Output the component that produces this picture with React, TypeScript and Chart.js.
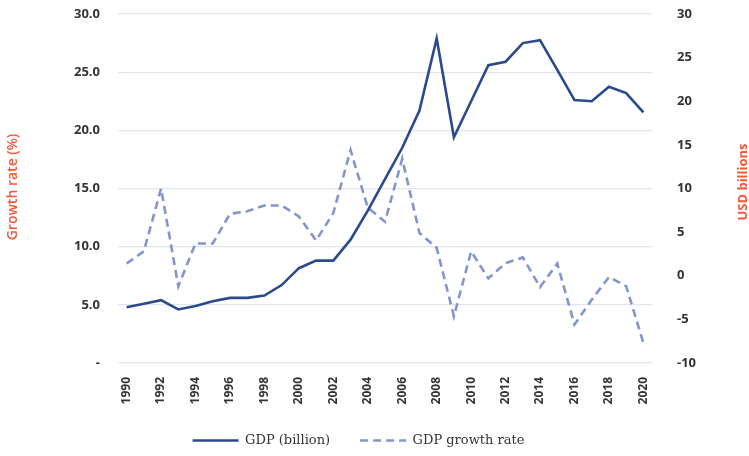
import React, { useEffect, useRef } from "react";
import { Chart, registerables } from "chart.js";

Chart.register(...registerables);

const years = [
  "1990", "1991", "1992", "1993", "1994", "1995", "1996", "1997", "1998", "1999",
  "2000", "2001", "2002", "2003", "2004", "2005", "2006", "2007", "2008", "2009",
  "2010", "2011", "2012", "2013", "2014", "2015", "2016", "2017", "2018", "2019", "2020",
];

const gdpBillion = [
  4.8, 5.1, 5.4, 4.6, 4.9, 5.3, 5.6, 5.6, 5.8, 6.7,
  8.15, 8.8, 8.8, 10.6, 13.1, 15.8, 18.5, 21.7, 27.9, 19.4,
  22.5, 25.6, 25.9, 27.5, 27.75, 25.2, 22.6, 22.5, 23.75, 23.2, 21.55,
];

const gdpGrowth = [
  1.4, 2.8, 10.0, -1.2, 3.7, 3.7, 7.1, 7.4, 8.05, 8.05,
  6.8, 4.05, 7.2, 14.4, 7.8, 6.2, 13.4, 4.9, 3.2, -4.65,
  2.8, -0.3, 1.45, 2.1, -1.3, 1.4, -5.6, -2.75, -0.15, -1.2, -7.7,
];

const seriesLabels = ["GDP (billion)", "GDP growth rate"];
const leftTitle = "Growth rate (%)";
const rightTitle = "USD billions";

const SOLID = "#2b4a8e";
const DASHED = "#8494cc";
const ORANGE = "#f15a3b";
const TICK = "#333333";
const GRID = "#e1e5ee";

const titlesPlugin = {
  id: "sideTitles",
  afterDraw(chart: any) {
    const { ctx } = chart;
    ctx.save();
    ctx.fillStyle = ORANGE;
    ctx.font = "600 14px 'Open Sans'";
    ctx.textAlign = "center";
    ctx.textBaseline = "middle";
    ctx.translate(13, 187);
    ctx.rotate(-Math.PI / 2);
    ctx.fillText(leftTitle, 0, 0);
    ctx.restore();

    ctx.save();
    ctx.fillStyle = ORANGE;
    ctx.font = "bold 13px 'Open Sans'";
    ctx.textAlign = "center";
    ctx.textBaseline = "middle";
    ctx.translate(743, 182);
    ctx.rotate(-Math.PI / 2);
    ctx.fillText(rightTitle, 0, 0);
    ctx.restore();
  },
};

export default function App() {
  const ref = useRef<HTMLCanvasElement | null>(null);

  useEffect(() => {
    if (!ref.current) return;
    const chart = new Chart(ref.current, {
      type: "line",
      data: {
        labels: years,
        datasets: [
          {
            label: seriesLabels[0],
            data: gdpBillion,
            yAxisID: "y",
            borderColor: SOLID,
            backgroundColor: SOLID,
            borderWidth: 2.6,
            pointRadius: 0,
            tension: 0,
          },
          {
            label: seriesLabels[1],
            data: gdpGrowth,
            yAxisID: "y1",
            borderColor: DASHED,
            backgroundColor: DASHED,
            borderWidth: 2.6,
            borderDash: [8, 5],
            pointRadius: 0,
            tension: 0,
          },
        ],
      },
      options: {
        animation: false,
        responsive: false,
        maintainAspectRatio: false,
        layout: { padding: { top: 0, bottom: -1, left: 0, right: 32 } },
        plugins: {
          legend: {
            position: "bottom",
            labels: {
              usePointStyle: true,
              pointStyle: "line",
              pointStyleWidth: 46,
              boxHeight: 13,
              color: "#333",
              font: { family: "'DejaVu Serif'", size: 13 },
              padding: 30,
              generateLabels: (c: any) =>
                c.data.datasets.map((ds: any, i: number) => ({
                  text: ds.label,
                  fillStyle: ds.borderColor,
                  strokeStyle: ds.borderColor,
                  lineWidth: 2.6,
                  lineDash: ds.borderDash || [],
                  lineCap: "butt",
                  pointStyle: "line",
                  hidden: false,
                  datasetIndex: i,
                  fontColor: "#333",
                })),
            },
          },
          tooltip: { enabled: false },
        },
        scales: {
          x: {
            type: "category",
            offset: true,
            grid: { display: false, drawTicks: false },
            border: { display: false },
            ticks: {
              autoSkip: false,
              minRotation: 90,
              maxRotation: 90,
              padding: 14,
              color: TICK,
              font: { family: "'Open Sans'", size: 12, weight: "bold" },
              callback: (v: any, i: number) => (i % 2 === 0 ? years[i] : ""),
            },
            afterFit: (s: any) => {
              s.height = 41;
            },
          },
          y: {
            position: "left",
            min: 0,
            max: 30,
            ticks: {
              stepSize: 5,
              padding: 18,
              color: TICK,
              font: { family: "'Open Sans'", size: 13, weight: "bold" },
              callback: (v: any) => (Number(v) === 0 ? "-" : Number(v).toFixed(1)),
            },
            grid: { color: GRID, lineWidth: 1.2, drawTicks: false },
            border: { display: false },
            afterFit: (s: any) => {
              s.width = 118;
              s.paddingTop = 14;
              s.paddingBottom = 0;
            },
          },
          y1: {
            position: "right",
            min: -10,
            max: 30,
            ticks: {
              stepSize: 5,
              padding: 25,
              color: TICK,
              font: { family: "'Open Sans'", size: 13, weight: "bold" },
            },
            grid: { drawOnChartArea: false, drawTicks: false },
            border: { display: false },
            afterFit: (s: any) => {
              s.width = 65;
              s.paddingTop = 14;
              s.paddingBottom = 0;
            },
          },
        },
      },
      plugins: [titlesPlugin],
    });
    return () => chart.destroy();
  }, []);

  return (
    <div style={{ position: "fixed", left: 0, top: 0, width: 749, height: 456, background: "#fff" }}>
      <canvas ref={ref} width={749} height={456} style={{ width: 749, height: 456 }} />
    </div>
  );
}
